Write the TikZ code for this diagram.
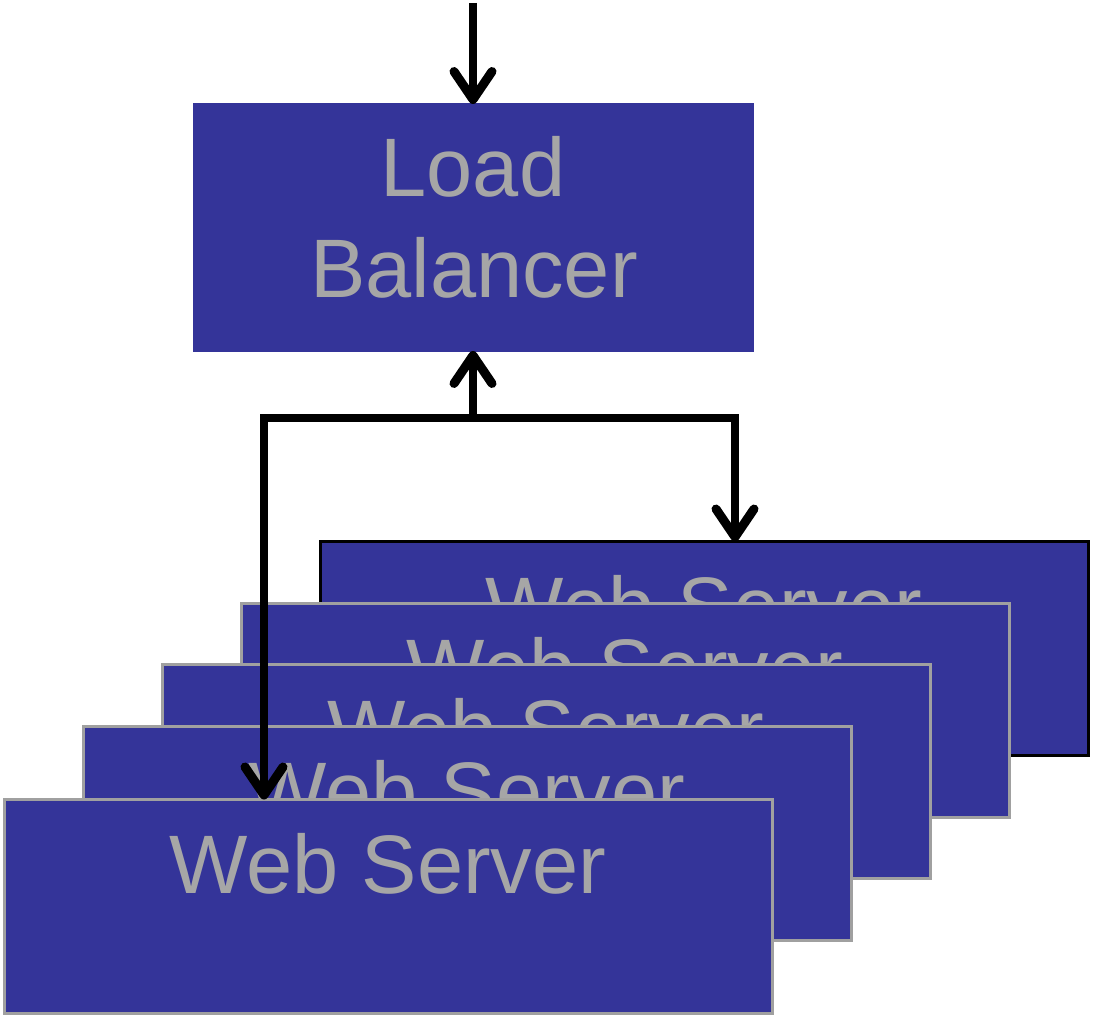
\documentclass[tikz,border=0pt]{standalone}
\usepackage{fontspec}
\setmainfont{Liberation Sans}
\usetikzlibrary{arrows.meta}
\definecolor{boxblue}{RGB}{52,52,153}
\definecolor{txtgrey}{RGB}{166,166,166}
\definecolor{edgegrey}{RGB}{160,160,160}
\tikzset{
  lbbox/.style={fill=boxblue, draw=boxblue, line width=1pt, minimum width=560pt, minimum height=247pt, inner sep=0pt, outer sep=0pt},
  wsbox/.style={fill=boxblue, draw=edgegrey, line width=3pt, minimum width=768pt, minimum height=214pt, inner sep=0pt, outer sep=0pt},
  bigtext/.style={text=txtgrey, font=\fontsize{83}{100}\selectfont, inner sep=0pt, anchor=base},
  conn/.style={line width=7.5pt, draw=black},
  tip/.style={-{Straight Barb[length=28pt,width=38pt,line width=9pt,round]}},
}
\begin{document}
\begin{tikzpicture}[x=1pt,y=-1pt]
\useasboundingbox (0,0) rectangle (1095,1019);
% load balancer
\node[lbbox] (lb) at (473,227.5) {};
\node[bigtext] (lbt1) at (473,197) {Load};
\node[bigtext] (lbt2) at (474,297) {Balancer};
% web servers, back to front
\node[wsbox, draw=black] (wsA) at (704,648.5) {};
\node[bigtext] (tA) at ([yshift=-94pt]wsA.north) {Web Server};
\node[wsbox] (wsB) at (625,710) {};
\node[bigtext] (tB) at ([yshift=-94pt]wsB.north) {Web Server};
\node[wsbox] (wsC) at (546,771.5) {};
\node[bigtext] (tC) at ([yshift=-94pt]wsC.north) {Web Server};
\node[wsbox] (wsD) at (467,833) {};
\node[bigtext] (tD) at ([yshift=-94pt]wsD.north) {Web Server};
\node[wsbox] (wsE) at (388,906.5) {};
\node[bigtext] (tE) at ([yshift=-94pt]wsE.north) {Web Server};
% connectors
\coordinate (in) at (473,3);
\coordinate (j) at (473,418);
\draw[conn, tip] (in) -- (lb.north);
\draw[conn, tip] (j) -- (lb.south);
\draw[conn, tip] (j) -| ([xshift=31pt]wsA.north);
\draw[conn, tip] (j) -| ([xshift=-124pt]wsE.north);
\end{tikzpicture}
\end{document}
